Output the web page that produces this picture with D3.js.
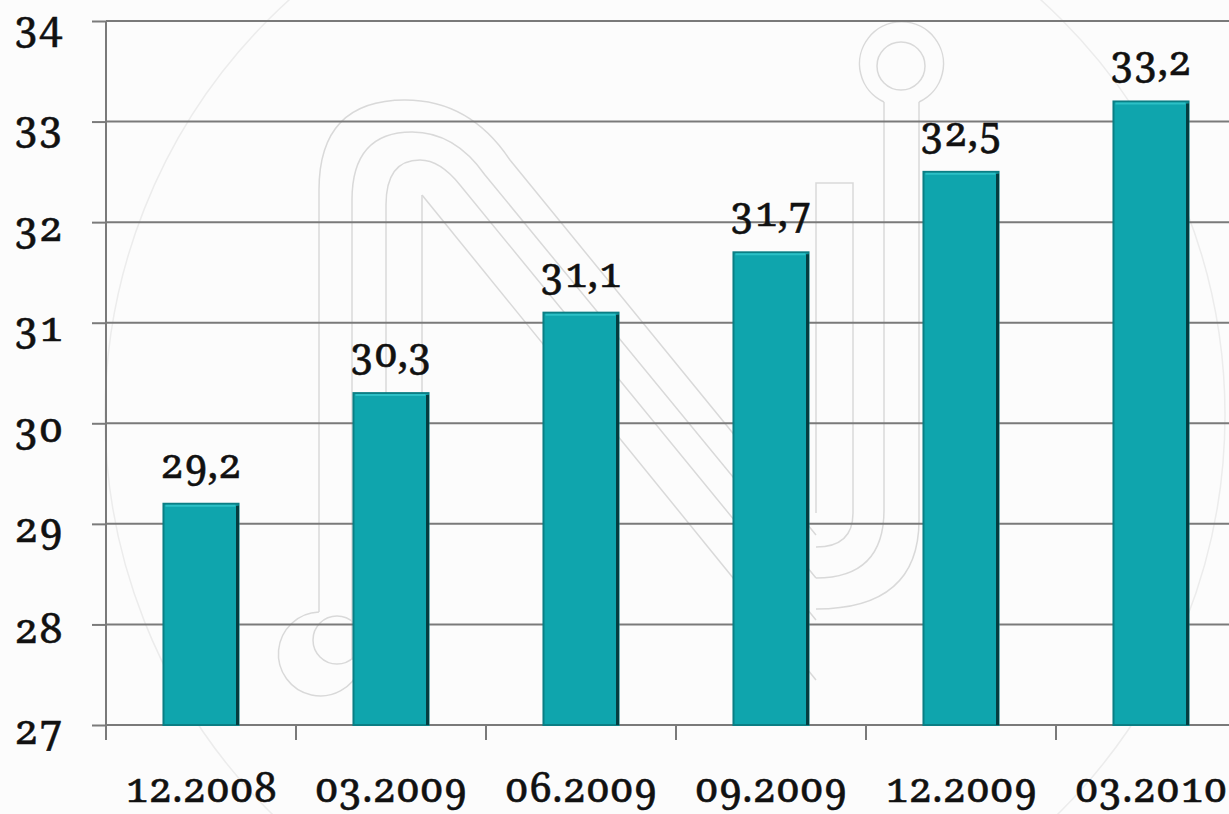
<!DOCTYPE html>
<html>
<head>
<meta charset="utf-8">
<script src="https://cdn.jsdelivr.net/npm/d3@7/dist/d3.min.js"></script>
<style>
  html, body { margin: 0; padding: 0; background: #fdfdfd; }
  svg { display: block; }
</style>
</head>
<body>
<svg id="chart" width="1229" height="814"></svg>
<script>
const categories = ["12.2008", "03.2009", "06.2009", "09.2009", "12.2009", "03.2010"];
const values = [29.2, 30.3, 31.1, 31.7, 32.5, 33.2];
const valueLabels = ["29,2", "30,3", "31,1", "31,7", "32,5", "33,2"];
const yTicks = [27, 28, 29, 30, 31, 32, 33, 34];

const W = 1229, H = 814;
const plotLeft = 106, plotRight = 1246, plotTop = 21, plotBottom = 725;
const FONT = "'serif'";

const svg = d3.select("#chart");

svg.append("rect").attr("width", W).attr("height", H).attr("fill", "#fcfcfc");

// faint watermark (decoration)
const wm = svg.append("g").attr("fill", "none").attr("stroke", "#d9d9d9").attr("stroke-width", 1.5);
wm.append("circle").attr("cx", 665).attr("cy", 415).attr("r", 560).attr("stroke", "#ececec");
wm.append("circle").attr("cx", 337).attr("cy", 640).attr("r", 24);
wm.append("path").attr("d", "M 319 612 A 42 42 0 1 0 360 668");
wm.append("circle").attr("cx", 901).attr("cy", 66).attr("r", 24);
wm.append("path").attr("d", "M 884 102 A 42 42 0 1 1 919 102");
wm.append("path").attr("d", "M 319 612 L 319 190 Q 319 100 405 100 Q 470 100 510 160 L 816 535");
wm.append("path").attr("d", "M 352 660 L 352 200 Q 352 132 412 132 Q 455 132 485 175 L 816 578");
wm.append("path").attr("d", "M 386 640 L 386 205 Q 386 160 420 160 Q 440 160 460 185 L 816 620");
wm.append("path").attr("d", "M 422 195 L 816 680");
wm.append("path").attr("d", "M 422 195 L 422 700");
wm.append("path").attr("d", "M 816 609 Q 919 609 919 520 L 919 102");
wm.append("path").attr("d", "M 816 578 Q 884 578 884 510 L 884 102");
wm.append("path").attr("d", "M 816 547 Q 853 547 853 513 L 853 183 L 816 183 L 816 513");

const x = d3.scaleBand().domain(categories).range([plotLeft, plotRight]).paddingInner(0).paddingOuter(0);
const y = d3.scaleLinear().domain([27, 34]).range([plotBottom, plotTop]);
const barW = x.bandwidth() * 0.395;
const cx = c => x(c) + x.bandwidth() / 2;

// y ticks
const yAxis = d3.axisLeft(y).tickValues(yTicks).tickSize(14).tickFormat(d => d);
const gy = svg.append("g").attr("transform", `translate(${plotLeft},0)`).call(yAxis)
  .attr("font-family", null).attr("font-size", null);
gy.select(".domain").remove();
gy.selectAll(".tick line").attr("stroke", "#7a7a7a").attr("stroke-width", 2);
gy.selectAll(".tick text").attr("x", -43).attr("dy", null).attr("y", 18)
  .attr("fill", "#111").attr("stroke", "#111").attr("stroke-width", 0.5)
  .style("font-size", "42px").style("font-family", FONT)
  .style("font-variant-numeric", "oldstyle-nums");

// gridlines
svg.append("g").selectAll("line").data(yTicks).join("line")
  .attr("x1", plotLeft).attr("x2", W)
  .attr("y1", d => y(d)).attr("y2", d => y(d))
  .attr("stroke", "#7a7a7a").attr("stroke-width", 2);

// y axis line
svg.append("line").attr("x1", plotLeft).attr("x2", plotLeft).attr("y1", plotTop).attr("y2", plotBottom + 15)
  .attr("stroke", "#7a7a7a").attr("stroke-width", 2);

// x axis ticks between categories
svg.append("g").selectAll("line").data(categories).join("line")
  .attr("x1", d => x(d)).attr("x2", d => x(d)).attr("y1", plotBottom).attr("y2", plotBottom + 15)
  .attr("stroke", "#7a7a7a").attr("stroke-width", 2);

// bars
const bars = svg.append("g").selectAll("g").data(values).join("g");
bars.append("rect")
  .attr("x", (d, i) => cx(categories[i]) - barW / 2)
  .attr("y", d => y(d))
  .attr("width", barW)
  .attr("height", d => plotBottom - y(d))
  .attr("fill", "#0fa5ad")
  .attr("stroke", "#0b7e84").attr("stroke-width", 2);
bars.append("line")
  .attr("x1", (d, i) => cx(categories[i]) + barW / 2 - 1)
  .attr("x2", (d, i) => cx(categories[i]) + barW / 2 - 1)
  .attr("y1", d => y(d) + 2).attr("y2", plotBottom)
  .attr("stroke", "#063c3f").attr("stroke-width", 3);
bars.append("line")
  .attr("x1", (d, i) => cx(categories[i]) - barW / 2 + 2)
  .attr("x2", (d, i) => cx(categories[i]) + barW / 2 - 3)
  .attr("y1", d => y(d) + 2).attr("y2", d => y(d) + 2)
  .attr("stroke", "#2cc0c6").attr("stroke-width", 2);

// value labels
svg.append("g").selectAll("text").data(values).join("text")
  .attr("x", (d, i) => cx(categories[i]))
  .attr("y", d => y(d) - 26)
  .attr("text-anchor", "middle")
  .attr("fill", "#111").attr("stroke", "#111").attr("stroke-width", 0.5)
  .style("font-family", FONT)
  .style("font-variant-numeric", "oldstyle-nums")
  .style("font-size", "41px")
  .text((d, i) => valueLabels[i]);

// category labels
svg.append("g").selectAll("text").data(categories).join("text")
  .attr("x", d => cx(d))
  .attr("y", 802)
  .attr("text-anchor", "middle")
  .attr("fill", "#111").attr("stroke", "#111").attr("stroke-width", 0.5)
  .style("font-family", FONT)
  .style("font-variant-numeric", "oldstyle-nums")
  .style("font-size", "41px")
  .text(d => d);
</script>
</body>
</html>
